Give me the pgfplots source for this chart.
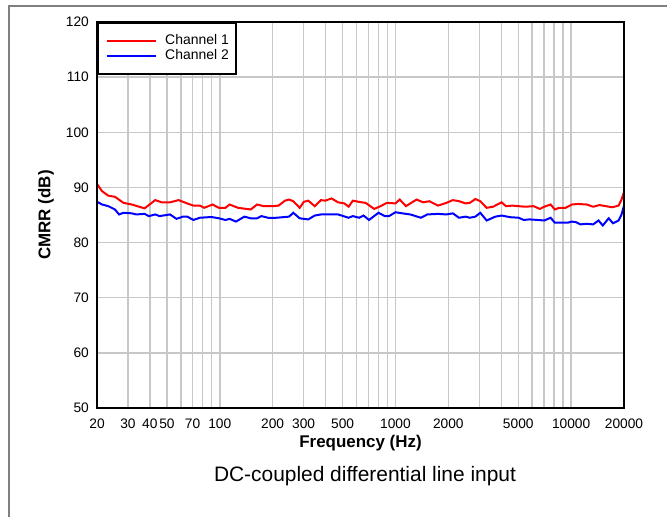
\documentclass[border=0pt]{standalone}
\usepackage{fontspec}
\setmainfont{Liberation Sans}
\usepackage{pgfplots}
\usepackage{pgfplotstable}
\pgfplotsset{compat=1.18}

\pgfplotstableread{
f v
20 90.6
21.4 89.3
23.2 88.5
25.3 88.3
28.3 87.2
31.6 86.9
37.3 86.2
42.9 87.7
46.7 87.3
52.1 87.3
58.3 87.7
65.2 87.1
70.8 86.7
77.0 86.7
81.5 86.3
91.0 86.9
98.9 86.3
107.6 86.3
113.8 86.9
127 86.3
142 86.1
150 86.0
163 86.9
178 86.6
199 86.6
216 86.7
235 87.6
248 87.8
262 87.5
285 86.3
301 87.4
319 87.6
347 86.6
377 87.7
398 87.6
433 88.0
471 87.3
512 87.1
541 86.5
572 87.6
640 87.3
676 87.2
757 86.1
822 86.6
893 87.2
1000 87.1
1057 87.8
1148 86.6
1214 87.1
1320 87.8
1435 87.3
1560 87.5
1745 86.7
1950 87.2
2120 87.7
2300 87.5
2507 87.1
2650 87.2
2850 87.9
3040 87.5
3305 86.3
3595 86.5
4020 87.3
4255 86.6
4625 86.7
5025 86.6
5470 86.5
6110 86.6
6640 86.1
7030 86.5
7640 86.9
8075 86.0
8530 86.3
9290 86.3
10100 86.9
10970 87.0
12270 86.9
13340 86.5
14500 86.8
15770 86.6
17140 86.4
18620 86.7
19360 87.8
20000 89.2
}\chone

\pgfplotstableread{
f v
20 87.4
21.4 86.9
23.2 86.6
25.3 86.0
26.7 85.1
28.3 85.4
31.6 85.3
33.4 85.1
37.3 85.2
39.5 84.8
42.9 85.1
45.4 84.8
52.1 85.1
56.7 84.3
61.7 84.7
65.2 84.7
70.8 84.1
77.0 84.5
86.1 84.6
91.0 84.6
98.9 84.4
107.6 84.1
113.8 84.3
123.6 83.8
138 84.7
150 84.4
163 84.4
172.8 84.8
188 84.5
210 84.5
248 84.7
262 85.4
285 84.4
319 84.2
347 84.9
377 85.1
433 85.1
471 85.1
541 84.5
572 84.8
622 84.5
658 84.9
707 84.1
800 85.4
870 84.8
919 84.8
1000 85.5
1148 85.2
1214 85.1
1396 84.5
1518 85.1
1745 85.2
1950 85.1
2120 85.3
2300 84.5
2507 84.7
2650 84.5
2850 84.7
3040 85.4
3305 84.0
3700 84.7
4020 84.9
4500 84.6
5025 84.5
5373 84.1
5780 84.2
6460 84.1
7030 84.0
7640 84.5
8075 83.6
8770 83.6
9540 83.6
10100 83.8
10660 83.7
11270 83.3
12270 83.4
13340 83.3
14320 84.0
15140 83.1
16360 84.4
17300 83.5
18620 84.0
19360 85.1
20000 86.7
}\chtwo

\definecolor{gridgray}{RGB}{200,200,200}
\definecolor{framegray}{RGB}{128,128,128}

\begin{document}
\begin{tikzpicture}[x=1bp,y=1bp]
\useasboundingbox (0,0) rectangle (667,517);
\draw[framegray, line width=2bp] (8.5,-5) -- (8.5,511.3) -- (672,511.3);
\begin{axis}[
  at={(97bp,109bp)}, anchor=south west,
  width=527bp, height=386bp, scale only axis,
  xmode=log, xmin=20, xmax=20000,
  ymin=50, ymax=120,
  ytick={50,60,70,80,90,100,110,120},
  xtick={20,30,40,50,60,70,80,90,100,200,300,400,500,600,700,800,900,1000,2000,3000,4000,5000,6000,7000,8000,9000,10000,20000},
  xticklabels={20,30,40,50,{},70,{},{},100,200,300,{},500,{},{},{},{},1000,2000,{},{},5000,{},{},{},{},10000,20000},
  minor xtick={},
  major tick length=0pt,
  grid=major,
  major grid style={gridgray, line width=1.4bp},
  axis line style={black, line width=2bp},
  after end axis/.code={\draw[black, line width=2.2bp] (rel axis cs:0,0) rectangle (rel axis cs:1,1);},
  /pgf/number format/assume math mode=true,
  tick label style={font=\fontsize{13.8}{16}\selectfont, black},
  xticklabel style={inner sep=0pt, anchor=north, yshift=-11bp},
  yticklabel style={inner sep=0pt, anchor=east, xshift=-8bp},
  xlabel={\textbf{Frequency (Hz)}},
  ylabel={\textbf{CMRR (dB)}},
  label style={font=\fontsize{17}{20}\selectfont},
  xlabel style={at={(axis description cs:0.5,-0.1036)}, anchor=base, inner sep=0pt},
  ylabel style={at={(axis description cs:-0.0968,0.5)}, anchor=center, inner sep=0pt},
  legend style={at={(0,1)}, anchor=north west, draw=black, line width=2bp, fill=white,
    inner xsep=7.5bp, inner ysep=11.5bp,
    font=\fontsize{14}{16}\selectfont,
    nodes={inner sep=0pt, text height=10bp, text depth=3bp},
    row sep=2bp,
    /tikz/every odd column/.append style={column sep=8.7bp}},
  legend cell align=left,
  legend image code/.code={\draw[#1] (0bp,0bp) -- (49bp,0bp);},
]
\addplot[red, line width=2bp] table[x=f, y=v] {\chone};
\addlegendentry{Channel 1}
\addplot[blue, line width=2bp] table[x=f, y=v] {\chtwo};
\addlegendentry{Channel 2}
\end{axis}
\node[anchor=base, inner sep=0pt, font=\fontsize{21}{24}\selectfont] at (365,35) {DC-coupled differential line input};
\end{tikzpicture}
\end{document}
